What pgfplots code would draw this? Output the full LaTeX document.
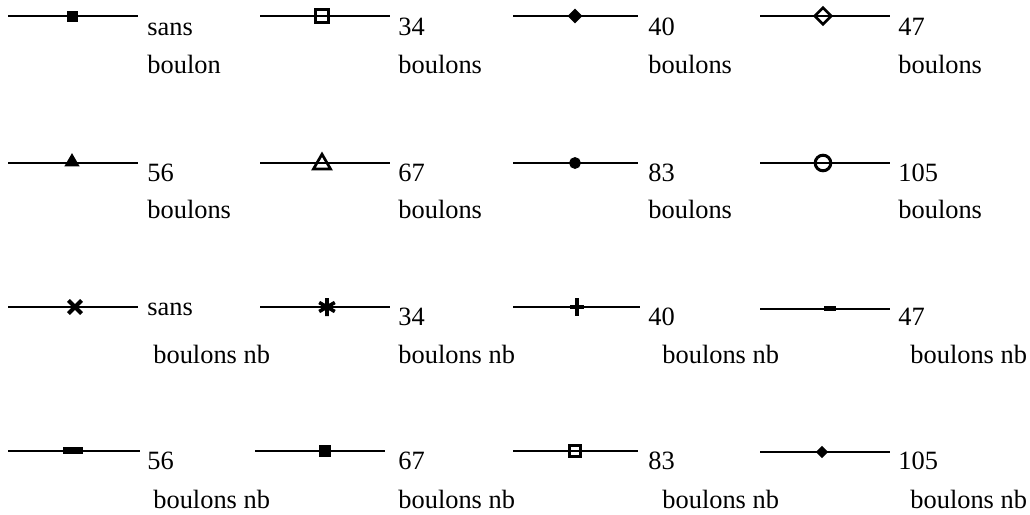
\documentclass[border=0pt]{standalone}
\usepackage{fontspec}
\setmainfont{Liberation Serif}
\usepackage{pgfplots}
\pgfplotsset{compat=1.18}

\begin{document}
\begin{tikzpicture}[font=\fontsize{13.2}{15}\selectfont,
  lbl/.style={anchor=base west,inner sep=0pt}]
\begin{axis}[width=515pt,height=257.5pt,scale only axis,hide axis,clip=false,
  xmin=0,xmax=1030,ymin=0,ymax=515,y dir=reverse,
  every axis plot/.append style={black,line width=1.35pt,mark indices={2},
    mark options={solid,line width=0.5pt}},
  open/.style={mark options={solid,fill=white,line width=1.5pt}}]
\path (rel axis cs:0,0) rectangle (rel axis cs:1,1);
% row 1
\addplot[mark=square*,mark size=2.5pt] coordinates {(8,16)(72,16)(138,16)};
\addplot[mark=square,mark size=3.3pt,open] coordinates {(260,16)(322,16)(390,16)};
\addplot[mark=square*,mark size=1.9pt,mark options={rotate=45}] coordinates {(513,16)(575,16)(638,16)};
\addplot[mark=square,mark size=2.9pt,open,mark options={rotate=45}] coordinates {(760,16)(823,16)(890,16)};
% row 2
\addplot[mark=triangle*,mark size=3.1pt,mark options={yshift=0.5pt}] coordinates {(8,163)(72,163)(138,163)};
\addplot[mark=triangle,mark size=4.9pt,open,mark options={yshift=-0.5pt}] coordinates {(260,163)(322,163)(390,163)};
\addplot[mark=*,mark size=2.7pt] coordinates {(513,163)(575,163)(638,163)};
\addplot[mark=o,mark size=3.9pt,open] coordinates {(760,163)(823,163)(890,163)};
% row 3
\addplot[mark=x,mark size=4.6pt,mark options={line width=2pt}] coordinates {(8,307)(75,307)(138,307)};
\addplot[mark=asterisk,mark size=4.5pt,mark options={line width=1.8pt}] coordinates {(260,307)(327,307)(390,307)};
\addplot[mark=+,mark size=3.6pt,mark options={line width=1.6pt,yscale=1.25}] coordinates {(513,307)(577,307)(640,307)};
\addplot[mark=square*,mark size=2.5pt,mark options={yscale=0.3,yshift=1pt}] coordinates {(760,309)(830,309)(890,309)};
% row 4
\addplot[mark=square*,mark size=4.4pt,mark options={yscale=0.25,yshift=1.2pt}] coordinates {(8,451)(73,451)(140,451)};
\addplot[mark=square*,mark size=2.3pt,mark options={yscale=1.1}] coordinates {(255,451)(325,451)(385,451)};
\addplot[mark=square,mark size=2.9pt,open] coordinates {(513,451)(575,451)(638,451)};
\addplot[mark=square*,mark size=1.5pt,mark options={rotate=45}] coordinates {(760,452)(822,452)(890,452)};
% labels
\node[lbl] at (axis cs:147,35) {sans};     \node[lbl] at (axis cs:147,73) {boulon};
\node[lbl] at (axis cs:398,35) {34};       \node[lbl] at (axis cs:398,73) {boulons};
\node[lbl] at (axis cs:648,35) {40};       \node[lbl] at (axis cs:648,73) {boulons};
\node[lbl] at (axis cs:898,35) {47};       \node[lbl] at (axis cs:898,73) {boulons};
\node[lbl] at (axis cs:147,181) {56};      \node[lbl] at (axis cs:147,218) {boulons};
\node[lbl] at (axis cs:398,181) {67};      \node[lbl] at (axis cs:398,218) {boulons};
\node[lbl] at (axis cs:648,181) {83};      \node[lbl] at (axis cs:648,218) {boulons};
\node[lbl] at (axis cs:898,181) {105};     \node[lbl] at (axis cs:898,218) {boulons};
\node[lbl] at (axis cs:147,315) {sans};    \node[lbl] at (axis cs:153,363) {boulons nb};
\node[lbl] at (axis cs:398,325) {34};      \node[lbl] at (axis cs:398,363) {boulons nb};
\node[lbl] at (axis cs:648,325) {40};      \node[lbl] at (axis cs:662,363) {boulons nb};
\node[lbl] at (axis cs:898,325) {47};      \node[lbl] at (axis cs:910,363) {boulons nb};
\node[lbl] at (axis cs:147,469) {56};      \node[lbl] at (axis cs:153,508) {boulons nb};
\node[lbl] at (axis cs:398,469) {67};      \node[lbl] at (axis cs:398,508) {boulons nb};
\node[lbl] at (axis cs:648,469) {83};      \node[lbl] at (axis cs:662,508) {boulons nb};
\node[lbl] at (axis cs:898,469) {105};     \node[lbl] at (axis cs:910,508) {boulons nb};
\end{axis}
\end{tikzpicture}
\end{document}
